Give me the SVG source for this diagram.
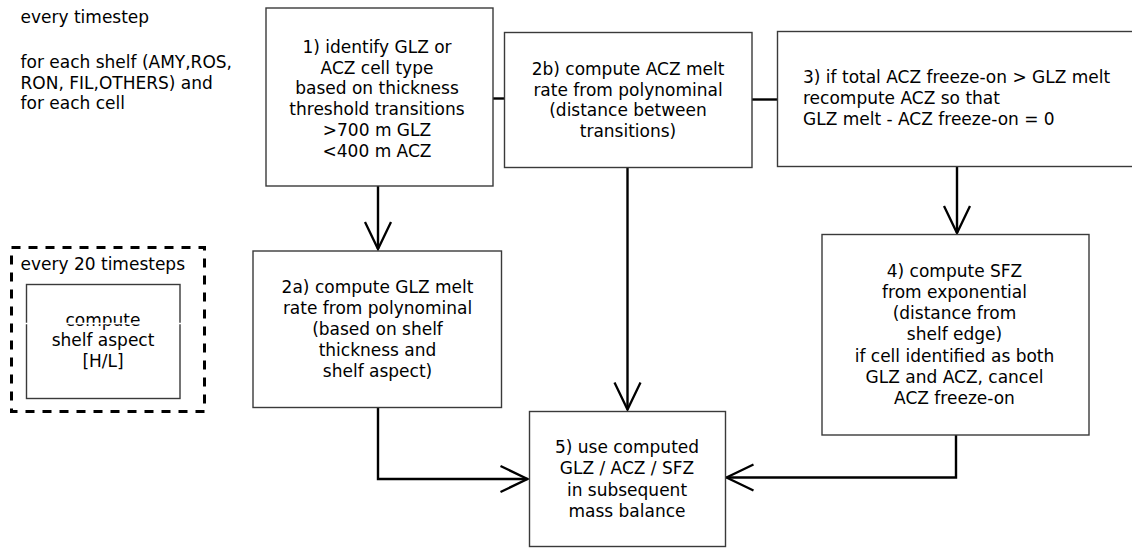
<svg xmlns="http://www.w3.org/2000/svg" width="1132" height="548" viewBox="0 0 1132 548">
<style>
text{font-family:"DejaVu Sans","Liberation Sans",sans-serif;font-size:17px;fill:#000}
.c{text-anchor:middle}
.box{fill:#fff;stroke:#3a3a3a;stroke-width:1.4}
.con{fill:none;stroke:#000;stroke-width:2.4}
</style>
<defs>
<marker id="arr" viewBox="-30 -16 34 32" refX="0" refY="0" markerWidth="34" markerHeight="32" markerUnits="userSpaceOnUse" orient="auto">
<path d="M-27,-13 L0,0 L-27,13" fill="none" stroke="#000" stroke-width="2.3"/>
</marker>
</defs>
<g id="header">
<text x="20.5" y="23">every timestep</text>
<text x="20.5" y="68">for each shelf (AMY,ROS,</text>
<text x="20.5" y="88.7">RON, FIL,OTHERS) and</text>
<text x="20.5" y="109.4">for each cell</text>
</g>
<g id="connectors">
<line class="con" x1="493" y1="98.5" x2="504" y2="98.5"/>
<line class="con" x1="752" y1="99.5" x2="778" y2="99.5"/>
<line class="con" x1="378" y1="186" x2="378" y2="249" marker-end="url(#arr)"/>
<line class="con" x1="627.5" y1="168" x2="627.5" y2="409.5" marker-end="url(#arr)"/>
<line class="con" x1="957" y1="167" x2="957" y2="233" marker-end="url(#arr)"/>
<polyline class="con" points="378,407.5 378,479 527.5,479" marker-end="url(#arr)"/>
<polyline class="con" points="956,435 956,477.5 726.5,477.5" marker-end="url(#arr)"/>
</g>
<g id="aspect">
<rect x="11.5" y="247.5" width="193" height="164" fill="none" stroke="#000" stroke-width="3" stroke-dasharray="9 8"/>
<text x="20.5" y="269.5">every 20 timesteps</text>
<rect class="box" x="26.5" y="284.5" width="153.5" height="114"/>
<text class="c" x="103" y="325.5">compute</text>
<line x1="24" y1="323.5" x2="183" y2="323.5" stroke="#fff" stroke-width="1.3"/>
<text class="c" x="103" y="346.3">shelf aspect</text>
<text class="c" x="103" y="367">[H/L]</text>
</g>
<g id="n1">
<rect class="box" x="266" y="8" width="227" height="178"/>
<text class="c" x="377" y="53">1) identify GLZ or</text>
<text class="c" x="377" y="73.7">ACZ cell type</text>
<text class="c" x="377" y="94.4">based on thickness</text>
<text class="c" x="377" y="115.1">threshold transitions</text>
<text class="c" x="377" y="135.8">&gt;700 m GLZ</text>
<text class="c" x="377" y="156.5">&lt;400 m ACZ</text>
</g>
<g id="n2b">
<rect class="box" x="504.5" y="32.5" width="247.5" height="135"/>
<text class="c" x="628" y="75">2b) compute ACZ melt</text>
<text class="c" x="628" y="95.7">rate from polynominal</text>
<text class="c" x="628" y="116.4">(distance between</text>
<text class="c" x="628" y="137.1">transitions)</text>
</g>
<g id="n3">
<rect class="box" x="777.5" y="31.5" width="370" height="135"/>
<text x="803" y="83.3">3) if total ACZ freeze-on &gt; GLZ melt</text>
<text x="803" y="104">recompute ACZ so that</text>
<text x="803" y="124.7">GLZ melt - ACZ freeze-on = 0</text>
</g>
<g id="n2a">
<rect class="box" x="253" y="251" width="248.5" height="156.5"/>
<text class="c" x="377.5" y="293.3">2a) compute GLZ melt</text>
<text class="c" x="377.5" y="314.1">rate from polynominal</text>
<text class="c" x="377.5" y="334.9">(based on shelf</text>
<text class="c" x="377.5" y="355.7">thickness and</text>
<text class="c" x="377.5" y="376.5">shelf aspect)</text>
</g>
<g id="n4">
<rect class="box" x="822" y="234.5" width="267" height="200.5"/>
<text class="c" x="954.5" y="276.5">4) compute SFZ</text>
<text class="c" x="954.5" y="297.8">from exponential</text>
<text class="c" x="954.5" y="319.1">(distance from</text>
<text class="c" x="954.5" y="340.4">shelf edge)</text>
<text class="c" x="954.5" y="361.7">if cell identified as both</text>
<text class="c" x="954.5" y="383">GLZ and ACZ, cancel</text>
<text class="c" x="954.5" y="404.3">ACZ freeze-on</text>
</g>
<g id="n5">
<rect class="box" x="529.5" y="411.5" width="196" height="135"/>
<text class="c" x="627" y="453.3">5) use computed</text>
<text class="c" x="627" y="474.4">GLZ / ACZ / SFZ</text>
<text class="c" x="627" y="495.5">in subsequent</text>
<text class="c" x="627" y="516.6">mass balance</text>
</g>
</svg>
